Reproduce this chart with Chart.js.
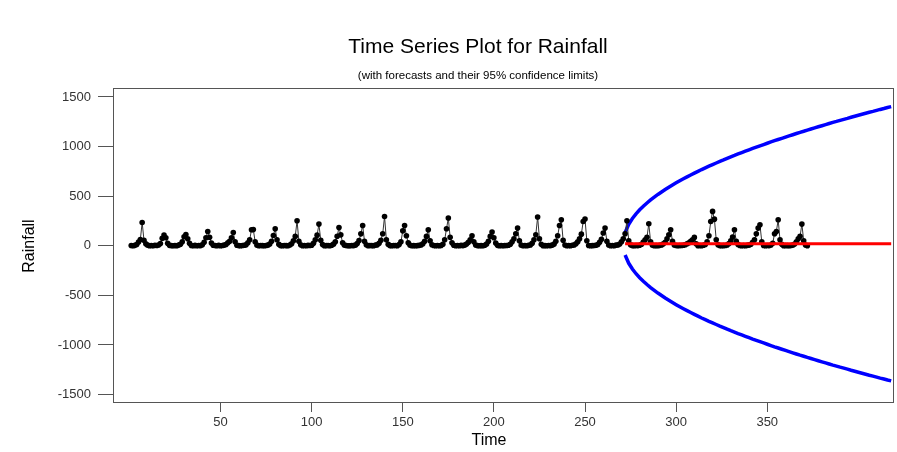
<!DOCTYPE html>
<html>
<head>
<meta charset="utf-8">
<title>Time Series Plot for Rainfall</title>
<script src="https://cdn.jsdelivr.net/npm/chart.js@4.4.1/dist/chart.umd.min.js"></script>
<style>
  html, body { margin: 0; padding: 0; background: #fff; }
  #wrap { width: 897px; height: 452px; }
</style>
</head>
<body>
<div id="wrap"><canvas id="rainChart" width="897" height="452"></canvas></div>
<script>
// monthly rainfall, one row per year (31 years)
const rainfall = [
  3, 0, 4, 12, 38, 62, 235, 55, 20, 6, 0, 2,
  0, 5, 2, 8, 22, 75, 108, 80, 25, 4, 1, 0,
  2, 0, 6, 15, 40, 90, 114, 70, 25, 3, 0, 4,
  0, 3, 1, 10, 35, 80, 144, 85, 28, 5, 2, 0,
  4, 0, 3, 6, 12, 30, 45, 80, 134, 40, 5, 1,
  0, 2, 5, 9, 30, 60, 161, 163, 40, 6, 0, 3,
  1, 0, 2, 6, 18, 45, 104, 171, 60, 14, 1, 0,
  3, 1, 0, 8, 20, 50, 94, 252, 45, 10, 0, 2,
  0, 4, 2, 5, 25, 60, 107, 218, 55, 12, 0, 1,
  2, 0, 5, 16, 40, 95, 184, 110, 30, 6, 2, 0,
  0, 3, 1, 6, 22, 52, 120, 204, 45, 10, 0, 2,
  1, 0, 6, 9, 25, 55, 121, 295, 60, 15, 1, 0,
  3, 2, 0, 12, 40, 150, 204, 100, 30, 6, 0, 1,
  0, 1, 4, 7, 20, 45, 94, 161, 50, 10, 2, 0,
  2, 0, 3, 15, 60, 171, 279, 85, 30, 5, 0, 3,
  0, 4, 1, 6, 18, 35, 60, 101, 40, 8, 1, 0,
  1, 0, 5, 18, 45, 94, 138, 80, 28, 4, 0, 2,
  0, 3, 2, 5, 15, 40, 70, 121, 178, 50, 6, 0,
  2, 0, 4, 8, 25, 60, 111, 289, 70, 15, 0, 1,
  0, 2, 1, 6, 16, 45, 101, 204, 262, 55, 8, 0,
  3, 0, 5, 8, 20, 40, 70, 117, 245, 269, 50, 2,
  0, 1, 3, 5, 12, 35, 65, 128, 178, 45, 8, 0,
  2, 0, 6, 8, 18, 40, 70, 120, 252, 50, 10, 1,
  0, 3, 1, 5, 15, 38, 60, 85, 222, 40, 6, 0,
  1, 0, 4, 7, 20, 35, 70, 111, 161, 45, 8, 2,
  0, 2, 3, 5, 10, 20, 30, 45, 60, 84, 20, 0,
  2, 0, 5, 12, 40, 100, 245, 346, 268, 60, 10, 1,
  0, 1, 3, 8, 22, 50, 87, 161, 45, 12, 2, 0,
  3, 0, 4, 6, 15, 35, 60, 120, 178, 211, 40, 2,
  0, 2, 1, 7, 25, 121, 144, 262, 60, 14, 0, 1,
  1, 0, 3, 6, 18, 40, 70, 94, 218, 50, 8, 0
];

// forecasts start at t = 272, read every 2nd step
const forecastStart = 272;
const forecastStep = 2;
const forecast = [
  20, 20, 20, 20, 20, 20, 20, 20, 20, 20,
  20, 20, 20, 20, 20, 20, 20, 20, 20, 20,
  20, 20, 20, 20, 20, 20, 20, 20, 20, 20,
  20, 20, 20, 20, 20, 20, 20, 20, 20, 20,
  20, 20, 20, 20, 20, 20, 20, 20, 20, 20,
  20, 20, 20, 20, 20, 20, 20, 20, 20, 20,
  20, 20, 20, 20, 20, 20, 20, 20, 20, 20,
  20, 20, 20, 20
];
const upperLimit = [
  134, 217, 275, 322, 362, 398, 431, 462, 490, 517,
  542, 567, 590, 612, 634, 655, 675, 694, 713, 732,
  750, 768, 785, 802, 818, 834, 850, 865, 881, 896,
  910, 925, 939, 953, 967, 981, 994, 1007, 1020, 1033,
  1046, 1059, 1071, 1083, 1095, 1107, 1119, 1131, 1143, 1154,
  1166, 1177, 1188, 1199, 1210, 1221, 1232, 1243, 1253, 1264,
  1274, 1284, 1295, 1305, 1315, 1325, 1335, 1345, 1354, 1364,
  1374, 1383, 1393, 1402
];
const lowerLimit = [
  -94, -177, -235, -282, -322, -358, -391, -422, -450, -477,
  -502, -527, -550, -572, -594, -615, -635, -654, -673, -692,
  -710, -728, -745, -762, -778, -794, -810, -825, -841, -856,
  -870, -885, -899, -913, -927, -941, -954, -967, -980, -993,
  -1006, -1019, -1031, -1043, -1055, -1067, -1079, -1091, -1103, -1114,
  -1126, -1137, -1148, -1159, -1170, -1181, -1192, -1203, -1213, -1224,
  -1234, -1244, -1255, -1265, -1275, -1285, -1295, -1305, -1314, -1324,
  -1334, -1343, -1353, -1362
];

const xTicks = [50, 100, 150, 200, 250, 300, 350];
const yTicks = [-1500, -1000, -500, 0, 500, 1000, 1500];

const mainTitle = "Time Series Plot for Rainfall";
const subTitle = "(with forecasts and their 95% confidence limits)";
const xTitle = "Time";
const yTitle = "Rainfall";

const FONT = '"Liberation Sans", Arial, sans-serif';

const observed = rainfall.map((v, i) => ({ x: i + 1, y: v }));
const toPoints = arr => arr.map((v, i) => ({ x: forecastStart + i * forecastStep, y: v }));

const textPlugin = {
  id: "rTexts",
  afterDraw(chart) {
    const { ctx, chartArea: a } = chart;
    ctx.save();
    // R style box round the plot region
    ctx.strokeStyle = "#555";
    ctx.lineWidth = 1;
    ctx.strokeRect(a.left + 0.5, a.top + 0.5, a.right - a.left, a.bottom - a.top);

    ctx.fillStyle = "#000";
    ctx.textAlign = "center";
    ctx.textBaseline = "middle";
    ctx.font = "21px " + FONT;
    ctx.fillText(mainTitle, 478, 47);
    ctx.font = "11.5px " + FONT;
    ctx.fillText(subTitle, 478, 76);

    ctx.font = "16px " + FONT;
    ctx.fillText(xTitle, 489, 441);
    ctx.translate(30, 246);
    ctx.rotate(-Math.PI / 2);
    ctx.fillText(yTitle, 0, 0);
    ctx.restore();
  }
};

const ctx = document.getElementById("rainChart").getContext("2d");

new Chart(ctx, {
  type: "line",
  data: {
    datasets: [
      {
        label: "Forecast",
        data: toPoints(forecast),
        borderColor: "#ff0000",
        borderWidth: 3,
        pointRadius: 0,
        order: 0
      },
      {
        label: "Rainfall",
        data: observed,
        borderColor: "#333",
        borderWidth: 1,
        pointRadius: 2.8,
        pointBackgroundColor: "#000",
        pointBorderColor: "#000",
        pointBorderWidth: 0,
        order: 1
      },
      {
        label: "Upper 95% limit",
        data: toPoints(upperLimit),
        borderColor: "#0000ff",
        borderWidth: 3.5,
        pointRadius: 0,
        order: 2
      },
      {
        label: "Lower 95% limit",
        data: toPoints(lowerLimit),
        borderColor: "#0000ff",
        borderWidth: 3.5,
        pointRadius: 0,
        order: 2
      }
    ]
  },
  options: {
    responsive: false,
    animation: false,
    devicePixelRatio: 1,
    layout: {
      padding: { top: 88, right: 1, left: 0, bottom: 0 }
    },
    plugins: {
      legend: { display: false },
      tooltip: { enabled: false }
    },
    scales: {
      x: {
        type: "linear",
        min: -9,
        max: 419,
        afterBuildTicks: scale => { scale.ticks = xTicks.map(v => ({ value: v })); },
        afterFit: scale => { scale.height = 50; },
        ticks: {
          color: "#333",
          padding: 3,
          maxRotation: 0,
          font: { family: FONT, size: 13 },
          callback: v => String(v)
        },
        grid: { drawOnChartArea: false, drawTicks: true, tickLength: 10, color: "#555" },
        border: { display: true, color: "#555" }
      },
      y: {
        min: -1575,
        max: 1590,
        afterBuildTicks: scale => { scale.ticks = yTicks.map(v => ({ value: v })); },
        afterFit: scale => { scale.width = 113; },
        ticks: {
          color: "#333",
          padding: 7,
          font: { family: FONT, size: 13 },
          callback: v => String(v)
        },
        grid: { drawOnChartArea: false, drawTicks: true, tickLength: 15, color: "#555" },
        border: { display: true, color: "#555" }
      }
    }
  },
  plugins: [textPlugin]
});
</script>
</body>
</html>
